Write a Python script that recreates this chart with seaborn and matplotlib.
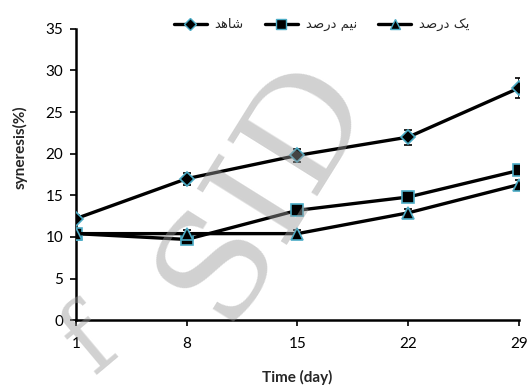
import matplotlib
matplotlib.use("Agg")
import matplotlib.pyplot as plt
import seaborn as sns
import numpy as np
import pandas as pd

days = ["1", "8", "15", "22", "29"]
control = [12.2, 17.0, 19.8, 22.0, 27.9]
control_err = [0.4, 0.7, 0.8, 0.9, 1.2]
half = [10.4, 9.7, 13.2, 14.8, 18.0]
half_err = [0.4, 0.4, 0.4, 0.5, 0.5]
one = [10.4, 10.4, 10.4, 12.9, 16.3]
one_err = [0.4, 0.4, 0.4, 0.4, 0.5]

# Persian labels, pre-shaped in visual order (presentation forms)
lab_control = "\uFEAA\uFEEB\uFE8E\uFEB7"            # شاهد
lab_half = "\uFEAA\uFEBB\uFEAD\uFEA9 \uFEE2\uFEF4\uFEE7"  # نیم درصد
lab_one = "\uFEAA\uFEBB\uFEAD\uFEA9 \uFB8F\uFEF3"   # یک درصد

sns.set_theme(style="white")
plt.rcParams['font.family'] = ['Lato', 'DejaVu Sans']

fig = plt.figure(figsize=(5.27, 3.9), dpi=100)
ax = fig.add_axes([0.144, 0.179, 0.841, 0.747])

x = np.arange(len(days))
series = [(control, control_err, "D", 7, lab_control),
          (half, half_err, "s", 8, lab_half),
          (one, one_err, "^", 8, lab_one)]
edge = "#4bacc6"
handles = []
for vals, errs, mk, ms, lab in series:
    df = pd.DataFrame({"x": x, "y": vals})
    ax.errorbar(x, vals, yerr=errs, fmt="none", ecolor="black", elinewidth=1.2,
                capsize=3, capthick=1.2, zorder=2)
    sns.lineplot(data=df, x="x", y="y", ax=ax, color="black", linewidth=2.4,
                 marker=mk, markersize=ms, markerfacecolor="black",
                 markeredgecolor=edge, markeredgewidth=1.2, zorder=3)
    handles.append(plt.Line2D([], [], color="black", linewidth=2.4, marker=mk,
                              markersize=ms - 1, markerfacecolor="black",
                              markeredgecolor=edge, markeredgewidth=1.0))

ax.set_xlim(0, 4)
ax.set_ylim(0, 35)
ax.set_xticks(x)
ax.set_xticklabels(days)
ax.set_yticks(range(0, 36, 5))
ax.tick_params(axis="both", labelsize=11, colors="black", length=4, width=1.2,
               direction="out", bottom=True, left=True, pad=5)
ax.tick_params(axis="x", pad=8)
for s in ["top", "right"]:
    ax.spines[s].set_visible(False)
for s in ["left", "bottom"]:
    ax.spines[s].set_color("black")
    ax.spines[s].set_linewidth(1.8)
ax.set_xlabel("Time (day)", fontsize=11, fontweight="bold")
ax.set_ylabel("syneresis(%)", fontsize=11, fontweight="bold")
ax.yaxis.set_label_coords(-0.108, 0.595)
ax.xaxis.set_label_coords(0.5, -0.172)
ax.grid(False)

leg = fig.legend(handles, [lab_control, lab_half, lab_one], loc="center",
                 bbox_to_anchor=(0.61, 0.936), ncol=3, frameon=False,
                 handlelength=2.5, columnspacing=1.6,
                 handletextpad=0.6, prop={"family": "DejaVu Sans", "size": 9.5})

fig.text(0.50, 0.52, "SID", fontsize=105, color="#9a9a9a", alpha=0.45,
         rotation=58, ha="center", va="center", zorder=10,
         family="DejaVu Serif")
fig.text(0.17, 0.12, "f", fontsize=70, color="#9a9a9a", alpha=0.45,
         rotation=40, ha="center", va="center", zorder=10,
         family="DejaVu Serif")

fig.savefig("out.png", dpi=100)
